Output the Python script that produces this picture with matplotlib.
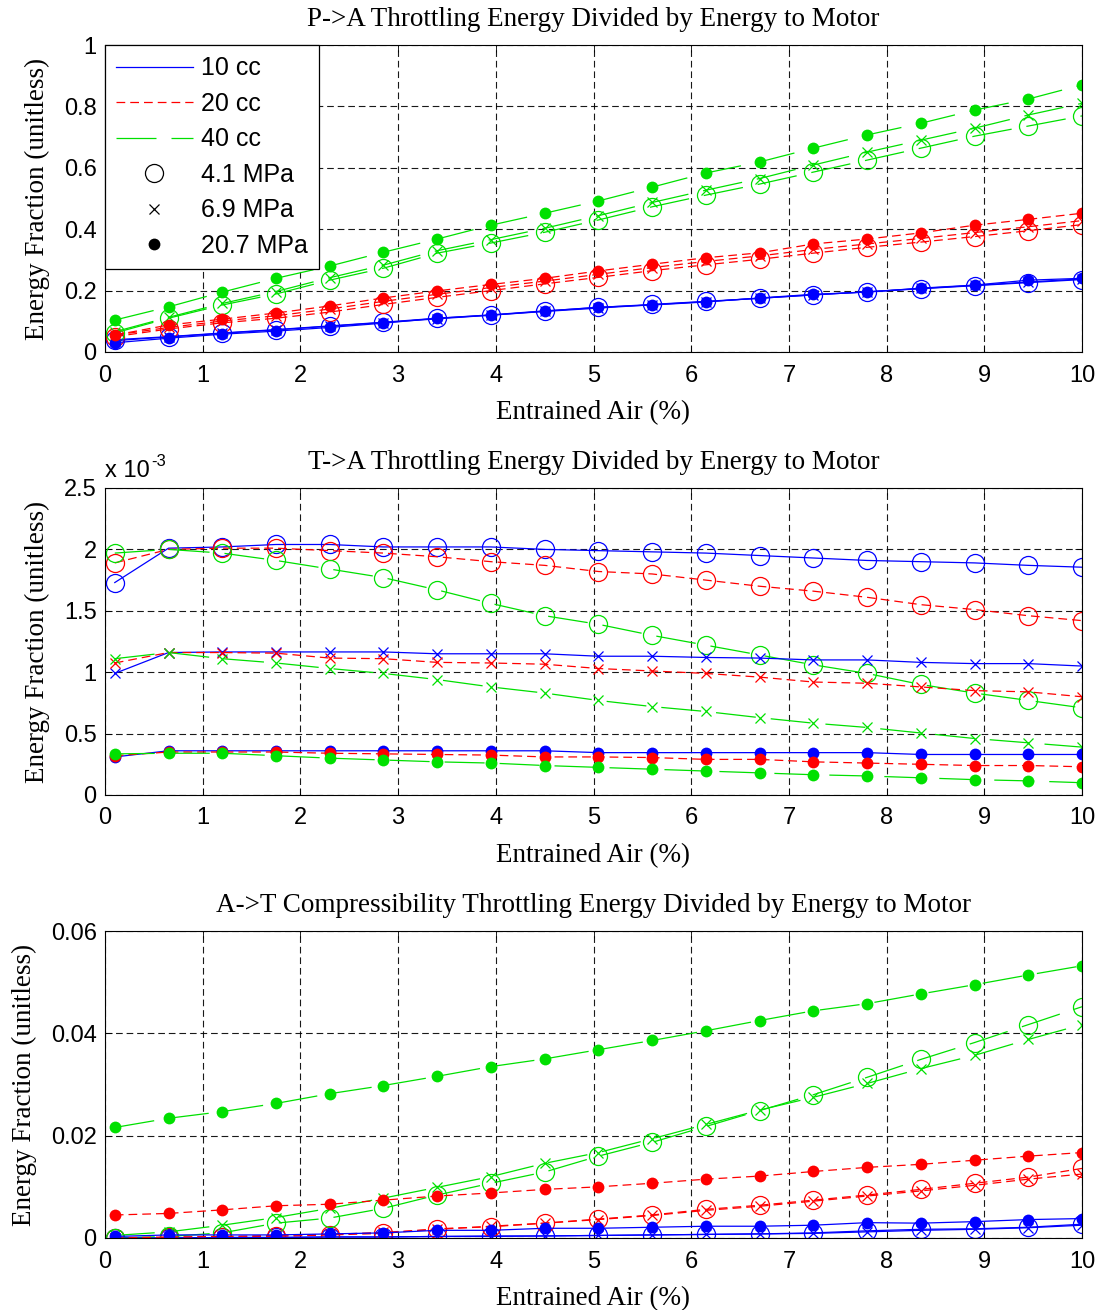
import numpy as np
import matplotlib
matplotlib.use("Agg")
import matplotlib.pyplot as plt
from matplotlib.lines import Line2D
from matplotlib.ticker import FuncFormatter

SANS = "Liberation Sans"
SERIF = "Liberation Serif"

plt.rcParams.update({
    "font.family": SANS,
    "axes.linewidth": 0.8,
    "xtick.direction": "in",
    "ytick.direction": "in",
    "xtick.top": True,
    "ytick.right": True,
    "xtick.major.size": 5,
    "ytick.major.size": 5,
    "xtick.major.width": 0.6,
    "ytick.major.width": 0.6,
    "xtick.labelsize": 17,
    "ytick.labelsize": 17,
})

# entrained air (%)
air = [0.1, 0.65, 1.2, 1.75, 2.3, 2.85, 3.4, 3.95, 4.5, 5.05,
       5.6, 6.15, 6.7, 7.25, 7.8, 8.35, 8.9, 9.45, 10.0]

# ---- P->A throttling energy / energy to motor
pa_10_41 = [0.040, 0.050, 0.062, 0.073, 0.085, 0.097, 0.110, 0.121, 0.134, 0.145,
            0.155, 0.165, 0.175, 0.186, 0.196, 0.206, 0.216, 0.226, 0.236]
pa_10_69 = [0.037, 0.049, 0.061, 0.072, 0.084, 0.096, 0.108, 0.120, 0.132, 0.143,
            0.154, 0.164, 0.175, 0.186, 0.196, 0.207, 0.217, 0.228, 0.238]
pa_10_207 = [0.030, 0.045, 0.058, 0.068, 0.080, 0.094, 0.110, 0.120, 0.133, 0.146,
             0.153, 0.163, 0.176, 0.188, 0.195, 0.208, 0.218, 0.234, 0.240]
pa_20_41 = [0.050, 0.075, 0.095, 0.110, 0.130, 0.155, 0.178, 0.200, 0.222, 0.243,
            0.265, 0.284, 0.302, 0.322, 0.341, 0.358, 0.376, 0.395, 0.415]
pa_20_69 = [0.055, 0.080, 0.101, 0.118, 0.140, 0.165, 0.188, 0.210, 0.231, 0.253,
            0.275, 0.295, 0.313, 0.334, 0.352, 0.370, 0.389, 0.408, 0.428]
pa_20_207 = [0.055, 0.088, 0.107, 0.127, 0.150, 0.176, 0.199, 0.220, 0.240, 0.264,
             0.286, 0.307, 0.323, 0.352, 0.368, 0.388, 0.413, 0.432, 0.452]
pa_40_41 = [0.062, 0.110, 0.153, 0.189, 0.234, 0.273, 0.322, 0.355, 0.390, 0.430,
            0.473, 0.511, 0.547, 0.586, 0.625, 0.664, 0.703, 0.736, 0.769]
pa_40_69 = [0.066, 0.113, 0.158, 0.197, 0.242, 0.283, 0.330, 0.366, 0.403, 0.444,
            0.487, 0.527, 0.565, 0.609, 0.651, 0.690, 0.729, 0.772, 0.810]
pa_40_207 = [0.104, 0.147, 0.195, 0.240, 0.280, 0.325, 0.368, 0.413, 0.452, 0.492,
             0.537, 0.583, 0.619, 0.664, 0.707, 0.745, 0.788, 0.824, 0.870]

# ---- T->A throttling energy / energy to motor (units of 1e-3)
ta_10_41 = [1.73, 2.01, 2.02, 2.04, 2.04, 2.02, 2.02, 2.02, 2.00, 1.99,
            1.98, 1.97, 1.95, 1.93, 1.91, 1.90, 1.89, 1.87, 1.855]
ta_10_69 = [0.99, 1.16, 1.165, 1.165, 1.165, 1.165, 1.15, 1.15, 1.15, 1.13,
            1.13, 1.12, 1.115, 1.10, 1.10, 1.08, 1.07, 1.07, 1.05]
ta_10_207 = [0.31, 0.36, 0.36, 0.36, 0.36, 0.36, 0.36, 0.36, 0.36, 0.345,
             0.345, 0.345, 0.345, 0.345, 0.345, 0.33, 0.33, 0.33, 0.33]
ta_20_41 = [1.89, 2.00, 2.01, 2.01, 1.99, 1.97, 1.94, 1.90, 1.87, 1.82,
            1.80, 1.75, 1.70, 1.66, 1.61, 1.55, 1.51, 1.46, 1.42]
ta_20_69 = [1.075, 1.16, 1.16, 1.155, 1.115, 1.11, 1.08, 1.075, 1.065, 1.03,
            1.01, 0.99, 0.96, 0.92, 0.91, 0.88, 0.85, 0.84, 0.80]
ta_20_207 = [0.32, 0.35, 0.35, 0.35, 0.34, 0.335, 0.33, 0.325, 0.31, 0.31,
             0.305, 0.29, 0.29, 0.27, 0.26, 0.25, 0.24, 0.24, 0.23]
ta_40_41 = [1.97, 2.00, 1.97, 1.91, 1.84, 1.77, 1.67, 1.56, 1.46, 1.39,
            1.30, 1.22, 1.14, 1.06, 0.99, 0.90, 0.83, 0.77, 0.71]
ta_40_69 = [1.11, 1.16, 1.11, 1.075, 1.03, 0.99, 0.94, 0.88, 0.83, 0.77,
            0.72, 0.68, 0.63, 0.585, 0.55, 0.505, 0.46, 0.425, 0.39]
ta_40_207 = [0.335, 0.34, 0.34, 0.32, 0.30, 0.285, 0.27, 0.26, 0.24, 0.225,
             0.21, 0.195, 0.18, 0.165, 0.155, 0.14, 0.125, 0.115, 0.10]

# ---- A->T compressibility throttling energy / energy to motor
at_10_41 = [0.0000, 0.0000, 0.0001, 0.0001, 0.0002, 0.0002, 0.0003, 0.0004, 0.0004, 0.0005,
            0.0006, 0.0007, 0.0008, 0.0010, 0.0014, 0.0017, 0.0018, 0.0021, 0.0027]
at_10_69 = [0.0000, 0.0000, 0.0001, 0.0001, 0.0002, 0.0002, 0.0003, 0.0003, 0.0004, 0.0005,
            0.0006, 0.0007, 0.0008, 0.0009, 0.0012, 0.0015, 0.0017, 0.0020, 0.0025]
at_10_207 = [0.0003, 0.0006, 0.0006, 0.0006, 0.0008, 0.0010, 0.0015, 0.0015, 0.0019, 0.0019,
             0.0021, 0.0023, 0.0023, 0.0025, 0.0030, 0.0029, 0.0032, 0.0036, 0.0038]
at_20_41 = [0.0000, 0.0001, 0.0002, 0.0003, 0.0006, 0.0009, 0.0018, 0.0022, 0.0029, 0.0037,
            0.0045, 0.0056, 0.0064, 0.0074, 0.0084, 0.0095, 0.0107, 0.0119, 0.0136]
at_20_69 = [0.0000, 0.0002, 0.0003, 0.0005, 0.0007, 0.0011, 0.0017, 0.0023, 0.0029, 0.0036,
            0.0044, 0.0054, 0.0062, 0.0072, 0.0082, 0.0092, 0.0103, 0.0115, 0.0125]
at_20_207 = [0.0045, 0.0048, 0.0055, 0.0063, 0.0066, 0.0074, 0.0082, 0.0088, 0.0095, 0.0100,
             0.0107, 0.0115, 0.0121, 0.0130, 0.0138, 0.0144, 0.0152, 0.0160, 0.0167]
at_40_41 = [0.0000, 0.0003, 0.0010, 0.0029, 0.0039, 0.0058, 0.0084, 0.0107, 0.0129, 0.0160,
            0.0187, 0.0218, 0.0249, 0.0280, 0.0314, 0.0349, 0.0382, 0.0417, 0.0452]
at_40_69 = [0.0005, 0.0012, 0.0025, 0.0040, 0.0058, 0.0078, 0.0099, 0.0120, 0.0146, 0.0167,
            0.0194, 0.0222, 0.0250, 0.0275, 0.0302, 0.0331, 0.0357, 0.0388, 0.0417]
at_40_207 = [0.0216, 0.0234, 0.0247, 0.0263, 0.0282, 0.0298, 0.0316, 0.0335, 0.0350, 0.0368,
             0.0386, 0.0405, 0.0425, 0.0444, 0.0458, 0.0477, 0.0495, 0.0514, 0.0532]

SIZES = ["10 cc", "20 cc", "40 cc"]
PRESSURES = ["4.1 MPa", "6.9 MPa", "20.7 MPa"]
COLORS = {"10 cc": "#0000ff", "20 cc": "#ff0000", "40 cc": "#00e000"}
STYLES = {"10 cc": "-", "20 cc": (0, (7, 4)), "40 cc": (0, (32, 12))}
MARKERS = {
    "4.1 MPa": dict(marker="o", markersize=13, markerfacecolor="none", markeredgewidth=0.9),
    "6.9 MPa": dict(marker="x", markersize=6.5, markeredgewidth=0.9),
    "20.7 MPa": dict(marker="o", markersize=8.5, markeredgewidth=0),
}

panels = [
    dict(title="P->A Throttling Energy Divided by Energy to Motor",
         data={("10 cc", "4.1 MPa"): pa_10_41, ("10 cc", "6.9 MPa"): pa_10_69,
               ("10 cc", "20.7 MPa"): pa_10_207, ("20 cc", "4.1 MPa"): pa_20_41,
               ("20 cc", "6.9 MPa"): pa_20_69, ("20 cc", "20.7 MPa"): pa_20_207,
               ("40 cc", "4.1 MPa"): pa_40_41, ("40 cc", "6.9 MPa"): pa_40_69,
               ("40 cc", "20.7 MPa"): pa_40_207},
         ylim=(0, 1), yticks=[0, 0.2, 0.4, 0.6, 0.8, 1.0], bottom=352),
    dict(title="T->A Throttling Energy Divided by Energy to Motor",
         data={("10 cc", "4.1 MPa"): ta_10_41, ("10 cc", "6.9 MPa"): ta_10_69,
               ("10 cc", "20.7 MPa"): ta_10_207, ("20 cc", "4.1 MPa"): ta_20_41,
               ("20 cc", "6.9 MPa"): ta_20_69, ("20 cc", "20.7 MPa"): ta_20_207,
               ("40 cc", "4.1 MPa"): ta_40_41, ("40 cc", "6.9 MPa"): ta_40_69,
               ("40 cc", "20.7 MPa"): ta_40_207},
         ylim=(0, 2.5), yticks=[0, 0.5, 1.0, 1.5, 2.0, 2.5], bottom=795),
    dict(title="A->T Compressibility Throttling Energy Divided by Energy to Motor",
         data={("10 cc", "4.1 MPa"): at_10_41, ("10 cc", "6.9 MPa"): at_10_69,
               ("10 cc", "20.7 MPa"): at_10_207, ("20 cc", "4.1 MPa"): at_20_41,
               ("20 cc", "6.9 MPa"): at_20_69, ("20 cc", "20.7 MPa"): at_20_207,
               ("40 cc", "4.1 MPa"): at_40_41, ("40 cc", "6.9 MPa"): at_40_69,
               ("40 cc", "20.7 MPa"): at_40_207},
         ylim=(0, 0.06), yticks=[0, 0.02, 0.04, 0.06], bottom=1238),
]

W, H = 1102, 1310
fig = plt.figure(figsize=(W / 100, H / 100), dpi=100)

fmt = FuncFormatter(lambda v, p: f"{v:g}")

for i, pan in enumerate(panels):
    left, right, h = 105, 1082, 307
    ax = fig.add_axes([left / W, 1 - pan["bottom"] / H, (right - left) / W, h / H])
    for pr in PRESSURES:
        for sz in SIZES:
            ax.plot(air, pan["data"][(sz, pr)], color=COLORS[sz], linestyle=STYLES[sz],
                    linewidth=0.9, markeredgecolor=COLORS[sz], **MARKERS[pr], zorder=3)
    ax.set_xlim(0, 10)
    ax.set_ylim(*pan["ylim"])
    ax.set_xticks(range(0, 11))
    ax.set_yticks(pan["yticks"])
    ax.xaxis.set_major_formatter(fmt)
    ax.yaxis.set_major_formatter(fmt)
    ax.tick_params(axis="x", pad=9)
    ax.tick_params(axis="y", pad=6)
    ax.grid(True, color="k", linestyle=(0, (6, 3.5)), linewidth=0.8, alpha=0.9)
    ax.set_axisbelow(True)
    ax.set_title(pan["title"], family=SERIF, fontsize=19.5, pad=14)
    ax.set_xlabel("Entrained Air (%)", family=SERIF, fontsize=19.5, labelpad=10)
    ax.set_ylabel("Energy Fraction (unitless)", family=SERIF, fontsize=19.5, labelpad=10)
    for s in ax.spines.values():
        s.set_zorder(5)

    if i == 1:
        # MATLAB-style exponent label, hyphen rather than minus sign
        ax.annotate("x 10", xy=(0.0, 1.02), xycoords="axes fraction",
                    ha="left", va="bottom", fontsize=17, family=SANS)
        ax.annotate("-3", xy=(0.0, 1.02), xycoords="axes fraction",
                    xytext=(33, 9), textcoords="offset points",
                    ha="left", va="bottom", fontsize=12, family=SANS)

    if i == 0:
        handles = [Line2D([], [], color=COLORS[s], linestyle=STYLES[s], linewidth=0.9)
                   for s in SIZES]
        for pr in PRESSURES:
            handles.append(Line2D([], [], linestyle="none", color="k",
                                  markeredgecolor="k", **MARKERS[pr]))
        leg = ax.legend(handles, SIZES + PRESSURES, loc="upper left",
                        bbox_to_anchor=(0, 1), borderaxespad=0, fontsize=18,
                        handlelength=3.05, handletextpad=0.35, labelspacing=0.46,
                        borderpad=0.45, fancybox=False, framealpha=1,
                        edgecolor="k")
        leg.get_frame().set_linewidth(0.9)
        leg.set_zorder(10)

fig.savefig("out.png", dpi=100)
